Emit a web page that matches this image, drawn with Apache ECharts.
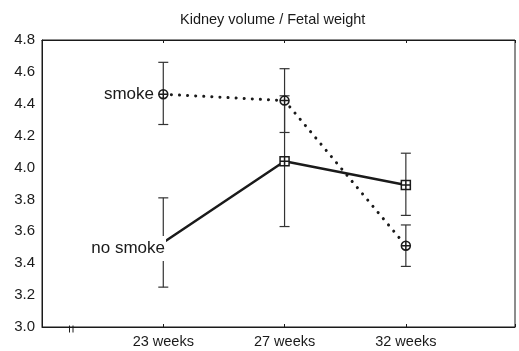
<!DOCTYPE html>
<html>
<head>
<meta charset="utf-8">
<script src="https://cdn.jsdelivr.net/npm/echarts@6/dist/echarts.min.js"></script>
<style>
  html, body { margin: 0; padding: 0; background: #fff; }
  #chart { width: 519px; height: 351px; }
</style>
</head>
<body>
<div id="chart"></div>
<script>
// Gestational age groups (placed at ordinal positions 1, 2, 3 on the x axis)
const categories = ['23 weeks', '27 weeks', '32 weeks'];
const positions = [1, 2, 3];

// Kidney volume / fetal weight: means and error-bar limits
const smokeMean = [4.46, 4.42, 3.51];
const smokeLow = [4.27, 4.22, 3.38];
const smokeHigh = [4.66, 4.62, 3.64];

const noSmokeMean = [3.53, 4.04, 3.89];
const noSmokeLow = [3.25, 3.63, 3.70];
const noSmokeHigh = [3.81, 4.45, 4.09];

const yTickLabels = ['3.0', '3.2', '3.4', '3.6', '3.8', '4.0', '4.2', '4.4', '4.6', '4.8'];

const FONT = '"Liberation Sans", Arial, Helvetica, sans-serif';
const INK = '#1a1a1a';

// Circle with a cross, and square with a cross
const circleCross = 'path://M0,-5A5,5 0 1,1 0,5A5,5 0 1,1 0,-5Z M-5,0L5,0 M0,-5L0,5';
const squareCross = 'path://M-5,-5L5,-5L5,5L-5,5Z M-5,0L5,0 M0,-5L0,5';

function errorSeries(low, high) {
  return {
    type: 'custom',
    z: 1,
    silent: true,
    data: positions.map((p, i) => [p, low[i], high[i]]),
    renderItem(params, api) {
      const x = api.value(0);
      const lo = api.coord([x, api.value(1)]);
      const hi = api.coord([x, api.value(2)]);
      const half = 5;
      const style = { stroke: '#333', lineWidth: 1.2 };
      return {
        type: 'group',
        children: [
          { type: 'line', shape: { x1: lo[0], y1: lo[1], x2: hi[0], y2: hi[1] }, style },
          { type: 'line', shape: { x1: lo[0] - half, y1: lo[1], x2: lo[0] + half, y2: lo[1] }, style },
          { type: 'line', shape: { x1: hi[0] - half, y1: hi[1], x2: hi[0] + half, y2: hi[1] }, style }
        ]
      };
    }
  };
}

const grid = { left: 42, right: 4, top: 40, bottom: 24 };

const chart = echarts.init(document.getElementById('chart'), null, { renderer: 'canvas' });

const smokeData = positions.map((p, i) => {
  const item = { value: [p, smokeMean[i]] };
  if (i === 0) {
    item.label = {
      show: true, formatter: 'smoke', position: 'left', distance: 4,
      fontFamily: FONT, fontSize: 17, color: INK
    };
  }
  return item;
});

const noSmokeData = positions.map((p, i) => {
  const item = { value: [p, noSmokeMean[i]] };
  if (i === 0) {
    item.symbolSize = 1;
    item.label = {
      show: true, formatter: 'no smoke', position: 'left', distance: 5,
      offset: [9, 6], fontFamily: FONT, fontSize: 17, color: INK,
      backgroundColor: '#fff', padding: [4, 1, 4, 2]
    };
  }
  return item;
});

chart.setOption({
  animation: false,
  backgroundColor: '#fff',
  title: {
    text: 'Kidney volume / Fetal weight',
    left: 175,
    top: 7,
    textStyle: { fontFamily: FONT, fontSize: 14.5, fontWeight: 'normal', color: INK }
  },
  grid: Object.assign({ show: true, borderColor: INK, borderWidth: 1 }, grid),
  xAxis: [{
    type: 'value',
    min: 0,
    max: 3.9,
    interval: 1,
    splitLine: { show: false },
    axisLine: { show: true, lineStyle: { color: INK, width: 1 } },
    axisTick: { show: true, inside: true, length: 3, lineStyle: { color: INK } },
    axisLabel: {
      fontFamily: FONT, fontSize: 14.5, color: INK, margin: 7,
      formatter: v => {
        const idx = positions.indexOf(v);
        return idx >= 0 ? categories[idx] : '';
      }
    }
  }, {
    type: 'value',
    position: 'top',
    min: 0,
    max: 3.9,
    interval: 1,
    splitLine: { show: false },
    axisLine: { show: true, lineStyle: { color: INK, width: 1 } },
    axisTick: { show: true, inside: true, length: 3, lineStyle: { color: INK } },
    axisLabel: { show: false }
  }],
  yAxis: {
    type: 'value',
    min: 3.0,
    max: 4.8,
    interval: 0.2,
    splitLine: { show: false },
    axisLine: { show: true, lineStyle: { color: INK, width: 1 } },
    axisTick: { show: false },
    axisLabel: {
      fontFamily: FONT, fontSize: 15, color: INK, margin: 7,
      formatter: v => yTickLabels[Math.round((v - 3.0) / 0.2)] || ''
    }
  },
  graphic: [{
    // axis break mark on the x axis
    type: 'group',
    left: 67,
    top: 351 - grid.bottom - 4,
    children: [
      { type: 'line', shape: { x1: 0, y1: 0, x2: 0, y2: 7 }, style: { stroke: INK, lineWidth: 1 } },
      { type: 'line', shape: { x1: 3.5, y1: 0, x2: 3.5, y2: 7 }, style: { stroke: INK, lineWidth: 1 } }
    ]
  }],
  series: [
    errorSeries(smokeLow, smokeHigh),
    errorSeries(noSmokeLow, noSmokeHigh),
    {
      name: 'smoke',
      type: 'line',
      z: 3,
      data: smokeData,
      symbol: circleCross,
      symbolSize: 9,
      itemStyle: { color: '#fff', borderColor: INK, borderWidth: 1.5 },
      lineStyle: { color: INK, width: 3, type: [0.1, 8], cap: 'round' }
    },
    {
      name: 'no smoke',
      type: 'line',
      z: 2,
      data: noSmokeData,
      symbol: squareCross,
      symbolSize: 9,
      itemStyle: { color: '#fff', borderColor: INK, borderWidth: 1.5 },
      lineStyle: { color: INK, width: 2.5 }
    }
  ]
});
</script>
</body>
</html>
